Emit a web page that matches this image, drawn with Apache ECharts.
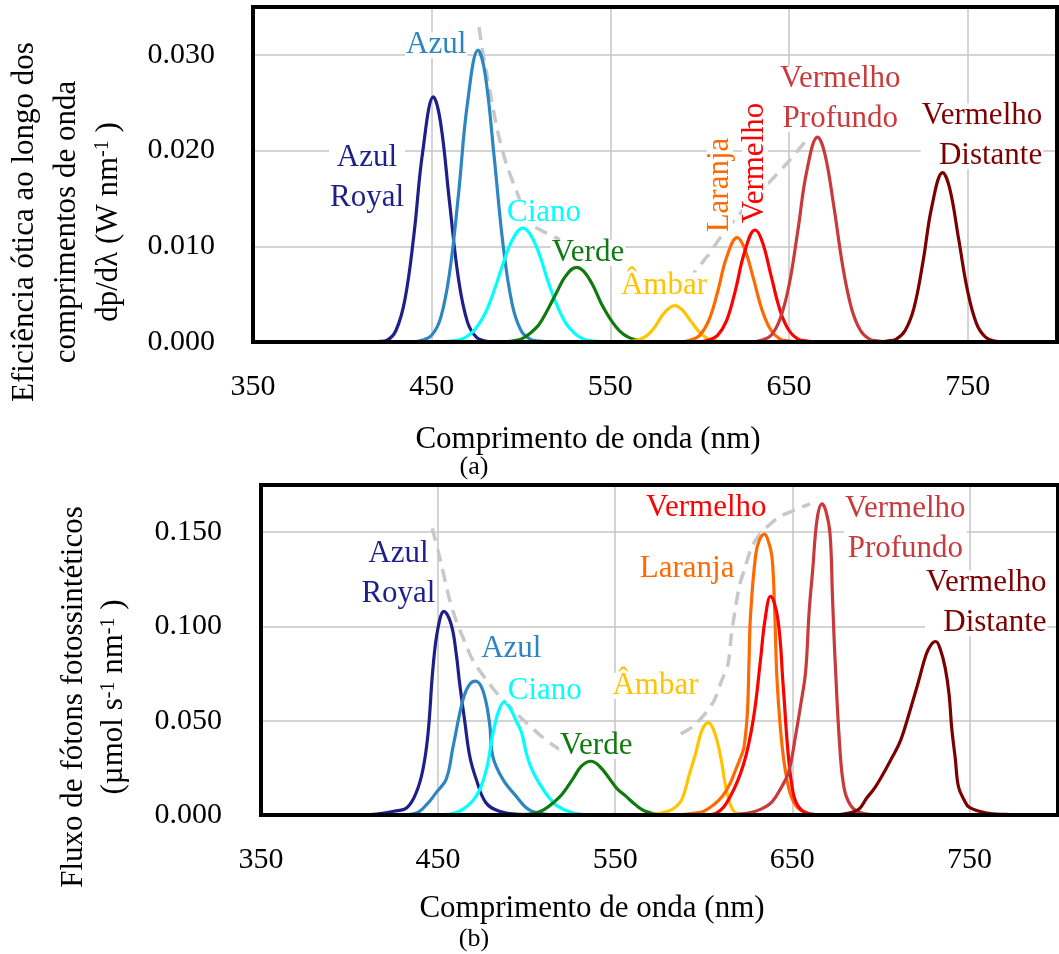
<!DOCTYPE html>
<html><head><meta charset="utf-8">
<script src="https://cdn.jsdelivr.net/npm/echarts@6/dist/echarts.min.js"></script>
<style>html,body{margin:0;padding:0;background:#fff}#c{width:1059px;height:954px}</style>
</head><body><div id="c"></div>
<script>
// ---------- data ----------
const xTicks = [350, 450, 550, 650, 750];
const aYTicks = [0, 0.01, 0.02, 0.03];
const bYTicks = [0, 0.05, 0.10, 0.15];

const ledColors = ['#1f1f8a', '#2e86c1', '#00ffff', '#0f7a0f', '#ffc400', '#ff6a00', '#ff0000', '#c93a3c', '#7d0000'];

// panel (a): dp/dλ  (W nm^-1)
const aRoyal = [[415,0],[420,0.00005],[425,0.0002],[430,0.0012],[435,0.0044],[440,0.0111],[445,0.0199],[451,0.0256],[455,0.0229],[460,0.0146],[465,0.0066],[470,0.0021],[475,0.0005],[480,0.0001],[490,0]];
const aBlue = [[440,0],[445,0.0002],[450,0.0007],[455,0.0025],[460,0.0072],[465,0.0154],[470,0.0249],[476,0.0305],[480,0.0279],[485,0.0193],[490,0.0101],[495,0.0040],[500,0.0012],[505,0.0003],[510,0.0001],[520,0]];
const aCyan = [[455,0],[460,0.0001],[465,0.0002],[470,0.0006],[475,0.0015],[480,0.0030],[485,0.0054],[490,0.0082],[495,0.0106],[501,0.0119],[505,0.0113],[510,0.0093],[515,0.0064],[520,0.0039],[525,0.0020],[530,0.0009],[535,0.0003],[540,0.0001],[550,0]];
const aGreen = [[490,0],[495,0.0001],[500,0.0003],[505,0.0009],[510,0.0018],[515,0.0034],[520,0.0052],[525,0.0069],[531,0.0078],[535,0.0074],[540,0.0060],[545,0.0040],[550,0.0024],[555,0.0012],[560,0.0005],[565,0.0002],[570,0],[580,0]];
const aAmber = [[560,0],[565,0.0002],[570,0.0006],[575,0.0016],[580,0.0030],[586,0.0038],[590,0.0034],[595,0.0022],[600,0.0010],[605,0.0003],[610,0.0001],[615,0]];
const aOrange = [[590,0],[595,0.0002],[600,0.0007],[605,0.0022],[610,0.0052],[615,0.0088],[621,0.0109],[625,0.0098],[630,0.0067],[635,0.0033],[640,0.0012],[645,0.0003],[650,0.0001],[655,0]];
const aRed = [[600,0],[605,0.0002],[610,0.0007],[615,0.0022],[620,0.0054],[625,0.0093],[631,0.0117],[635,0.0105],[640,0.0069],[645,0.0033],[650,0.0012],[655,0.0003],[660,0.0001],[665,0]];
const aDeepRed = [[630,0],[635,0.0002],[640,0.0007],[645,0.0024],[650,0.0059],[655,0.0117],[660,0.0179],[666,0.0214],[670,0.0197],[675,0.0143],[680,0.0080],[685,0.0035],[690,0.0012],[695,0.0003],[700,0.0001],[705,0]];
const aFarRed = [[700,0],[705,0.0001],[710,0.0003],[715,0.0012],[720,0.0036],[725,0.0084],[730,0.0142],[736,0.0177],[740,0.0160],[745,0.0107],[750,0.0053],[755,0.0019],[760,0.0005],[765,0.0001],[775,0]];
// dashed guide (null = hidden stretch behind labels)
const aGuide = [[476.5,0.0329],[478.7,0.0302],[483,0.0258],[487.2,0.0218],[492,0.0185],[497.8,0.0156],[502,0.0136],[506.8,0.0122],[514,0.0114],[521.8,0.0107],[540,null],[586,0.0047],[595,0.0068],[604,0.0089],[612,0.0110],[621,0.0131],[635,0.0159],[649,0.0187],[660.6,0.0213]];

// panel (b): photon flux (µmol s^-1 nm^-1)
const bRoyal = [[400,0],[415,0.0005],[425,0.002],[432.5,0.004],[437.7,0.012],[441.4,0.024],[444.3,0.043],[447.1,0.078],[449.9,0.099],[453.3,0.108],[457.4,0.101],[460.3,0.085],[462,0.071],[465,0.050],[467.9,0.031],[471.5,0.019],[477,0.0065],[484.6,0.002],[496,0.0003],[510,0]];
const bBlue = [[430,0],[437.7,0.001],[444,0.006],[449,0.012],[454.6,0.019],[458.4,0.036],[464,0.061],[467.6,0.069],[471.1,0.071],[475.3,0.066],[479,0.049],[480.9,0.031],[486.5,0.019],[494,0.010],[501,0.003],[510,0.0005],[520,0]];
const bCyan = [[450,0],[462,0.002],[471.5,0.010],[477.2,0.024],[480.9,0.043],[484.5,0.056],[487.5,0.060],[491,0.056],[494,0.050],[497,0.044],[500,0.032],[503,0.024],[507,0.017],[512,0.010],[517,0.005],[525,0.0015],[535,0]];
const bGreen = [[495,0],[505,0.001],[510,0.003],[515,0.0065],[520,0.011],[526,0.019],[531,0.026],[536.3,0.0285],[541,0.026],[547,0.019],[551,0.014],[556,0.010],[562,0.005],[567,0.002],[575,0.0003],[585,0]];
const bAmber = [[560,0],[572,0.0005],[580,0.002],[585,0.005],[588,0.009],[592,0.022],[595.5,0.033],[599,0.045],[602.6,0.049],[606,0.044],[609.5,0.031],[612,0.017],[614.2,0.008],[617,0.002],[622,0.0003],[630,0]];
const bOrange = [[585,0],[595,0.001],[600,0.002],[605,0.005],[610.5,0.010],[615,0.017],[618,0.024],[621,0.031],[622.7,0.036],[624.6,0.054],[625.5,0.080],[626.4,0.106],[629.3,0.138],[631.5,0.146],[634.3,0.149],[636.5,0.145],[638.6,0.136],[640.1,0.106],[641.4,0.071],[644.3,0.036],[648,0.014],[652,0.005],[657,0.0015],[665,0]];
const bRed = [[600,0],[607,0.001],[614.5,0.009],[622.5,0.027],[628,0.051],[632,0.082],[634.5,0.103],[637.7,0.116],[641.8,0.104],[644.8,0.069],[647.5,0.034],[650,0.014],[652.5,0.006],[657,0.0015],[665,0]];
const bDeepRed = [[615,0],[625,0.001],[632,0.003],[638.5,0.007],[644,0.015],[648,0.023],[652,0.043],[655,0.060],[657.5,0.076],[659.5,0.108],[661.5,0.130],[664,0.157],[666.8,0.165],[669,0.161],[671.3,0.149],[672.7,0.115],[674,0.085],[676.8,0.036],[679.3,0.014],[683,0.005],[688,0.0015],[697,0]];
const bFarRed = [[675,0],[682,0.001],[687.5,0.003],[692,0.009],[697,0.015],[706.6,0.031],[711.3,0.040],[716,0.054],[721,0.070],[725.5,0.085],[728.5,0.0905],[731,0.092],[733.5,0.088],[736.3,0.078],[738.5,0.064],[740,0.046],[742,0.030],[743.8,0.015],[747,0.008],[750,0.004],[759,0.0012],[770,0.0003],[785,0]];
const bGuide = [[446.7,0.152],[451.8,0.133],[456,0.116],[460.2,0.103],[465,0.092],[469.6,0.082],[477,0.072],[484.6,0.063],[492,0.056],[499.7,0.049],[508,0.042],[516.6,0.036],[525,0.032],[533.8,0.030],[560,null],[587,0.043],[594,0.047],[601,0.054],[606,0.061],[610,0.071],[613.7,0.080],[615.5,0.095],[617.6,0.108],[620,0.121],[623.2,0.131],[627,0.142],[631,0.148],[636,0.153],[642.4,0.158],[652,0.162],[660,0.165]];

// curve labels (text + anchor in data units)
const aLabelText = ['Azul\nRoyal', 'Azul', 'Ciano', 'Verde', 'Âmbar', 'Laranja', 'Vermelho', 'Vermelho\nProfundo', 'Vermelho\nDistante'];
const aLabelAt = [[413.8,0.0171],[452.5,0.0310],[512.9,0.0135],[537.5,0.0093],[580,0.0059],[611.3,0.0164],[631,0.0187],[678.7,0.0254],[792.3,0.0215]];
const bLabelText = ['Azul\nRoyal', 'Azul', 'Ciano', 'Verde', 'Âmbar', 'Laranja', 'Vermelho', 'Vermelho\nProfundo', 'Vermelho\nDistante'];
const bLabelAt = [[427.6,0.128],[491.3,0.0882],[510.2,0.0659],[539.3,0.0367],[572.7,0.0686],[590.6,0.1306],[601.4,0.1631],[713.8,0.1516],[794.1,0.1123]];

// ---------- layout / style ----------
const FONT = "'Liberation Serif','Times New Roman',Times,serif";
const GRID_A = {left: 253, top: 7, width: 804, height: 335};
const GRID_B = {left: 261, top: 485, width: 797, height: 330};
const GRIDLINE = {color: '#c6c6c6', width: 1.5};
const aLabelRotate = [0,0,0,0,0,90,90,0,0];
const aLabelAlign = ['center','center','center','center','center','center','center','center','right'];
const bLabelRotate = [0,0,0,0,0,0,0,0,0];
const bLabelAlign = ['center','center','center','center','center','center','center','center','right'];

const panelA = [aRoyal, aBlue, aCyan, aGreen, aAmber, aOrange, aRed, aDeepRed, aFarRed];
const panelB = [bRoyal, bBlue, bCyan, bGreen, bAmber, bOrange, bRed, bDeepRed, bFarRed];

function xAxis(gi) {
  return {
    gridIndex: gi, type: 'value', min: 350, max: 800, interval: 100,
    axisLine: {show: false}, axisTick: {show: false, customValues: xTicks},
    axisLabel: {customValues: xTicks, fontFamily: FONT, fontSize: 30, color: '#000', margin: 30},
    splitLine: {show: true, lineStyle: GRIDLINE}
  };
}
function yAxis(gi, max, interval, ticks, margin) {
  return {
    gridIndex: gi, type: 'value', min: 0, max: max, interval: interval,
    axisLine: {show: false}, axisTick: {show: false, customValues: ticks},
    axisLabel: {customValues: ticks, fontFamily: FONT, fontSize: 30, color: '#000', margin: margin,
      formatter: v => v.toFixed(3)},
    splitLine: {show: true, lineStyle: GRIDLINE}
  };
}

const series = [];
function addPanel(gi, curves, guide, texts, at, rot, align) {
  series.push({
    type: 'line', xAxisIndex: gi, yAxisIndex: gi, data: guide, showSymbol: false, smooth: 0.3,
    connectNulls: false,
    lineStyle: {color: '#c8c8c8', width: 3.5, type: [13, 8]}, z: 2, silent: true
  });
  curves.forEach((d, i) => series.push({
    type: 'line', xAxisIndex: gi, yAxisIndex: gi, data: d, showSymbol: false,
    smooth: 0.4,
    lineStyle: {color: ledColors[i], width: 3.2}, z: 3, silent: true
  }));
  series.push({
    type: 'scatter', xAxisIndex: gi, yAxisIndex: gi, symbolSize: 1, silent: true, z: 5,
    itemStyle: {color: 'rgba(0,0,0,0)', opacity: 1},
    data: at.map((p, i) => ({
      value: p,
      label: {
        show: true, position: 'inside', formatter: texts[i].replace('\n', '\n{g| }\n'), color: ledColors[i],
        fontFamily: FONT, fontSize: 31, lineHeight: 26, rotate: rot[i], align: align[i],
        verticalAlign: 'middle', backgroundColor: '#fff', padding: [0, 1],
        textBorderWidth: 0, opacity: 1,
        rich: {g: {fontSize: 4, lineHeight: 14}}
      }
    }))
  });
}
addPanel(0, panelA, aGuide, aLabelText, aLabelAt, aLabelRotate, aLabelAlign);
addPanel(1, panelB, bGuide, bLabelText, bLabelAt, bLabelRotate, bLabelAlign);

const supStyle = {fontFamily: FONT, fontSize: 20, fill: '#000', verticalAlign: 'top', padding: [5, 0, 0, 0]};
const graphic = [
  {type: 'rect', z: 100, silent: true, shape: {x: GRID_A.left, y: GRID_A.top, width: GRID_A.width, height: GRID_A.height},
   style: {fill: null, stroke: '#000', lineWidth: 4}},
  {type: 'rect', z: 100, silent: true, shape: {x: GRID_B.left, y: GRID_B.top, width: GRID_B.width, height: GRID_B.height},
   style: {fill: null, stroke: '#000', lineWidth: 4}},
  {type: 'text', x: 67, y: 222, rotation: Math.PI / 2, silent: true,
   style: {text: 'Eficiência ótica ao longo dos\ncomprimentos de onda\ndp/dλ (W nm{sup|-1} )',
     fontFamily: FONT, fontSize: 31, fill: '#000', lineHeight: 42, align: 'center', verticalAlign: 'middle',
     rich: {sup: supStyle}}},
  {type: 'text', x: 94, y: 697, rotation: Math.PI / 2, silent: true,
   style: {text: 'Fluxo de fótons fotossintéticos\n(µmol s{sup|-1} nm{sup|-1} )',
     fontFamily: FONT, fontSize: 31, fill: '#000', lineHeight: 40, align: 'center', verticalAlign: 'middle',
     rich: {sup: supStyle}}},
  {type: 'text', x: 588, y: 440, silent: true,
   style: {text: 'Comprimento de onda (nm)', fontFamily: FONT, fontSize: 31, fill: '#000', align: 'center', verticalAlign: 'middle'}},
  {type: 'text', x: 474, y: 467, silent: true,
   style: {text: '(a)', fontFamily: FONT, fontSize: 26, fill: '#000', align: 'center', verticalAlign: 'middle'}},
  {type: 'text', x: 592, y: 909, silent: true,
   style: {text: 'Comprimento de onda (nm)', fontFamily: FONT, fontSize: 31, fill: '#000', align: 'center', verticalAlign: 'middle'}},
  {type: 'text', x: 474, y: 939, silent: true,
   style: {text: '(b)', fontFamily: FONT, fontSize: 26, fill: '#000', align: 'center', verticalAlign: 'middle'}}
];

const chart = echarts.init(document.getElementById('c'), null, {renderer: 'canvas'});
chart.setOption({
  animation: false,
  backgroundColor: '#fff',
  grid: [GRID_A, GRID_B],
  xAxis: [xAxis(0), xAxis(1)],
  yAxis: [yAxis(0, 0.035, 0.01, aYTicks, 38), yAxis(1, 0.175, 0.05, bYTicks, 39)],
  series: series,
  graphic: graphic
});
</script>
</body></html>
